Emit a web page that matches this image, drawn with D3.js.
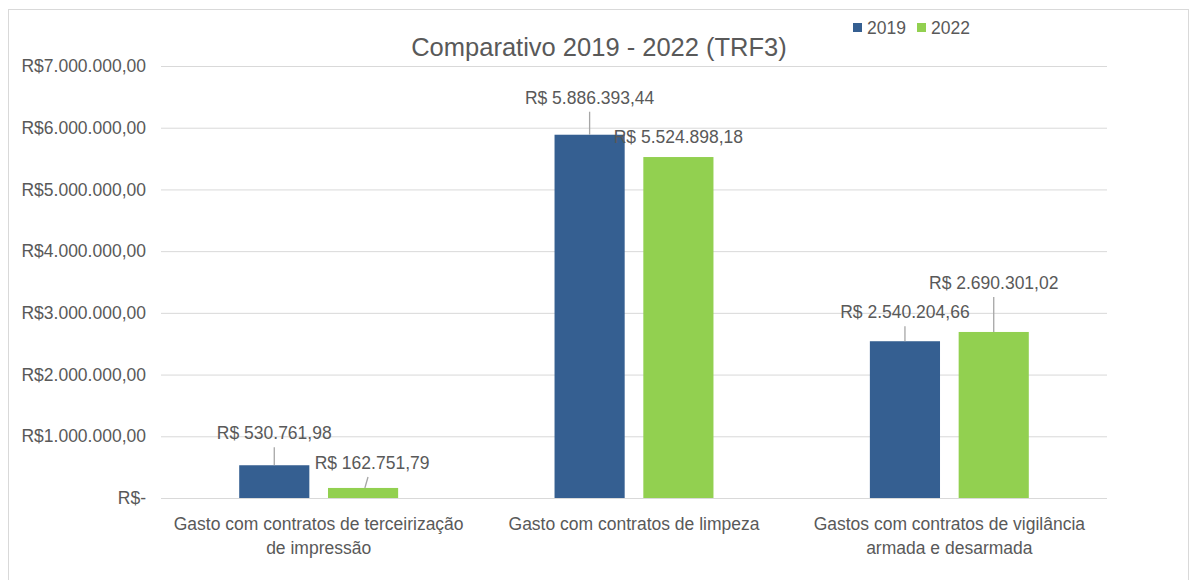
<!DOCTYPE html>
<html lang="pt">
<head>
<meta charset="utf-8">
<title>Comparativo 2019 - 2022 (TRF3)</title>
<script src="https://cdnjs.cloudflare.com/ajax/libs/d3/7.8.5/d3.min.js"></script>
<style>
  body { margin:0; background:#fff; }
  text { font-family: "Liberation Sans", Arial, sans-serif; fill:#595959; }
</style>
</head>
<body>
<svg id="chart" width="1196" height="580"></svg>
<script>
// chart data
var categories = ["Gasto com contratos de terceirização de impressão",
                  "Gasto com contratos de limpeza",
                  "Gastos com contratos de vigilância armada e desarmada"];
var series = ["2019", "2022"];
var values2019 = [530761.98, 5886393.44, 2540204.66];
var values2022 = [162751.79, 5524898.18, 2690301.02];
var yTicks = [0, 1000000, 2000000, 3000000, 4000000, 5000000, 6000000, 7000000];

// label placement (pixels, relative to bar top / bar centre) - hand moved in the original
var labelShift2019 = [[0, -32, true], [0, -37, true], [0, -29, true]];
var labelShift2022 = [[9, -25, true], [0, -20, false], [0, -49, true]];

var colors = {"2019": "#355F91", "2022": "#92D050"};

var svg = d3.select("#chart");

// outer chart border
svg.append("rect").attr("x", 8.5).attr("y", 9.5).attr("width", 1180).attr("height", 600)
  .attr("fill", "none").attr("stroke", "#D9D9D9");

var plotLeft = 161, plotRight = 1107, plotTop = 66, plotBottom = 498;

var y = d3.scaleLinear().domain([0, 7000000]).range([plotBottom, plotTop]);
var x0 = d3.scaleBand().domain(categories).range([plotLeft, plotRight]);
var bw = x0.bandwidth();
var x1 = d3.scaleBand().domain(series).range([bw * 0.248, bw * 0.752]).paddingInner(0.21);

function brl(v, withSpace) {
  var parts = v.toFixed(2).split(".");
  var intPart = parts[0].replace(/\B(?=(\d{3})+(?!\d))/g, ".");
  return "R$" + (withSpace ? " " : "") + intPart + "," + parts[1];
}

// gridlines + y labels
var yAxis = d3.axisLeft(y).tickValues(yTicks).tickSize(-(plotRight - plotLeft)).tickPadding(15)
  .tickFormat(function(d){ return d === 0 ? "R$-" : brl(d, false); });
var gy = svg.append("g").attr("transform", "translate(" + plotLeft + ",0)").call(yAxis);
gy.select(".domain").remove();
gy.selectAll(".tick line").attr("stroke", "#D9D9D9").attr("stroke-width", 1);
gy.selectAll(".tick text").style("font-size", "17.5px").attr("fill", "#595959")
  .style("font-family", "Liberation Sans, Arial, sans-serif");

// data table for the bars
var rows = [];
categories.forEach(function(c, i) {
  rows.push({cat: c, s: "2019", v: values2019[i], shift: labelShift2019[i]});
  rows.push({cat: c, s: "2022", v: values2022[i], shift: labelShift2022[i]});
});

svg.selectAll("rect.bar").data(rows).enter().append("rect")
  .attr("class", "bar")
  .attr("x", function(d){ return x0(d.cat) + x1(d.s); })
  .attr("y", function(d){ return y(d.v); })
  .attr("width", x1.bandwidth())
  .attr("height", function(d){ return y(0) - y(d.v); })
  .attr("fill", function(d){ return colors[d.s]; });

// leader lines
svg.selectAll("line.leader").data(rows.filter(function(d){ return d.shift[2]; })).enter().append("line")
  .attr("class", "leader")
  .attr("x1", function(d){ return x0(d.cat) + x1(d.s) + x1.bandwidth() / 2 + d.shift[0] * 0.2; })
  .attr("y1", function(d){ return y(d.v); })
  .attr("x2", function(d){ return x0(d.cat) + x1(d.s) + x1.bandwidth() / 2 + d.shift[0] * 0.55; })
  .attr("y2", function(d){ return y(d.v) + d.shift[1] + 14; })
  .attr("stroke", "#A6A6A6").attr("stroke-width", 1.3);

// data labels
svg.selectAll("text.val").data(rows).enter().append("text")
  .attr("class", "val")
  .attr("x", function(d){ return x0(d.cat) + x1(d.s) + x1.bandwidth() / 2 + d.shift[0]; })
  .attr("y", function(d){ return y(d.v) + d.shift[1]; })
  .attr("dy", "0.35em")
  .attr("text-anchor", "middle")
  .style("font-size", "17.5px")
  .text(function(d){ return brl(d.v, true); });

// category labels, wrapped
function wrap(text, width) {
  text.each(function() {
    var t = d3.select(this),
      words = t.text().split(/\s+/).reverse(),
      word, line = [], lineNumber = 0,
      xx = t.attr("x"), yy = t.attr("y"),
      tspan = t.text(null).append("tspan").attr("x", xx).attr("y", yy);
    while (word = words.pop()) {
      line.push(word);
      tspan.text(line.join(" "));
      if (tspan.node().getComputedTextLength() > width && line.length > 1) {
        line.pop();
        tspan.text(line.join(" "));
        line = [word];
        tspan = t.append("tspan").attr("x", xx).attr("y", +yy + (++lineNumber) * 24).text(word);
      }
    }
  });
}

svg.selectAll("text.cat").data(categories).enter().append("text")
  .attr("class", "cat")
  .attr("x", function(d){ return x0(d) + bw / 2; })
  .attr("y", 530)
  .attr("text-anchor", "middle")
  .style("font-size", "17.5px")
  .text(function(d){ return d; })
  .call(wrap, 300);

// title
svg.append("text").attr("x", 599).attr("y", 56).attr("text-anchor", "middle")
  .style("font-size", "25.5px").text("Comparativo 2019 - 2022 (TRF3)");

// legend
var leg = svg.append("g").attr("transform", "translate(853,23)");
var li = leg.selectAll("g").data(series).enter().append("g")
  .attr("transform", function(d, i){ return "translate(" + (i * 64) + ",0)"; });
li.append("rect").attr("width", 9).attr("height", 9).attr("fill", function(d){ return colors[d]; });
li.append("text").attr("x", 14).attr("y", 5).attr("dy", "0.35em")
  .style("font-size", "17.5px").text(function(d){ return d; });
</script>
</body>
</html>
